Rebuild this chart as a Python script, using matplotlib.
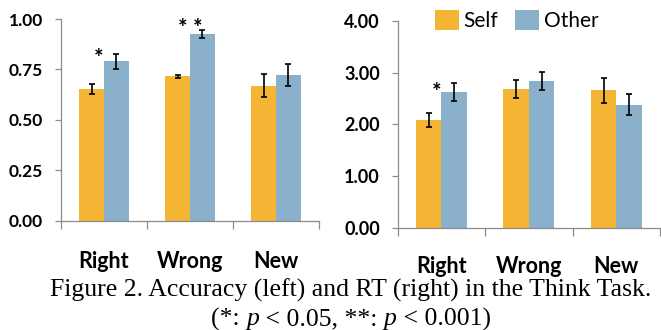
import matplotlib
matplotlib.use("Agg")
import matplotlib.pyplot as plt
from matplotlib.patches import Patch
import numpy as np

categories = ["Right", "Wrong", "New"]
acc_self = [0.655, 0.715, 0.670]
acc_self_err = [0.025, 0.007, 0.057]
acc_other = [0.790, 0.925, 0.722]
acc_other_err = [0.038, 0.021, 0.053]
rt_self = [2.08, 2.68, 2.66]
rt_self_err = [0.14, 0.18, 0.24]
rt_other = [2.62, 2.84, 2.38]
rt_other_err = [0.17, 0.17, 0.20]
acc_ticks = [0.00, 0.25, 0.50, 0.75, 1.00]
rt_ticks = [0.00, 1.00, 2.00, 3.00, 4.00]
series_names = ["Self", "Other"]
caption1 = "Figure 2. Accuracy (left) and RT (right) in the Think Task."
caption2_parts = [("(*: ", "normal"), ("p", "italic"), (" < 0.05, **: ", "normal"),
                  ("p", "italic"), (" < 0.001)", "normal")]

ORANGE = "#F4B434"
BLUE = "#8AB0CC"
GRAY = "#8C8C8C"
FONT = "Lato"
SERIF = "Liberation Serif"

fig = plt.figure(figsize=(6.61, 3.30), dpi=100)
W, H = 661, 330

def px_axes(x0, x1, ytop, ybot):
    return fig.add_axes([x0 / W, 1 - ybot / H, (x1 - x0) / W, (ybot - ytop) / H])

ax1 = px_axes(61, 319, 19, 220.7)
ax2 = px_axes(397.7, 660, 20.7, 228)

def style(ax, self_v, self_e, other_v, other_e, ticks, tsize, csize, cpad):
    x = np.arange(len(categories))
    w = 0.29
    ax.bar(x - w / 2, self_v, w, color=ORANGE, zorder=2)
    ax.bar(x + w / 2, other_v, w, color=BLUE, zorder=2)
    ax.errorbar(x - w / 2, self_v, yerr=self_e, fmt="none", ecolor="black",
                elinewidth=1.2, capsize=2.3, capthick=1.2, zorder=3)
    ax.errorbar(x + w / 2, other_v, yerr=other_e, fmt="none", ecolor="black",
                elinewidth=1.2, capsize=2.3, capthick=1.2, zorder=3)
    ax.set_xlim(-0.5, len(categories) - 0.5)
    ax.set_ylim(ticks[0], ticks[-1])
    ax.set_yticks(ticks)
    ax.set_yticklabels([f"{t:.2f}" for t in ticks], fontsize=tsize,
                       fontweight="bold", family=FONT)
    ax.set_xticks(x)
    ax.set_xticklabels(categories, fontsize=csize, fontweight="bold", family=FONT)
    ax.set_xticks(np.arange(-0.5, len(categories)), minor=True)
    ax.tick_params(axis="x", which="major", length=0, pad=cpad)
    ax.tick_params(axis="x", which="minor", length=6, width=0.9, color=GRAY, direction="out")
    ax.tick_params(axis="y", length=4.3, width=0.9, color=GRAY, pad=8.5, direction="out")
    for s in ["top", "right"]:
        ax.spines[s].set_visible(False)
    for s in ["left", "bottom"]:
        ax.spines[s].set_color(GRAY)
        ax.spines[s].set_linewidth(0.9)
    ax.spines["left"].set_bounds(ticks[0], ticks[-1])
    return x, w

x1, w1 = style(ax1, acc_self, acc_self_err, acc_other, acc_other_err, acc_ticks, 12.5, 15.5, 21.5)
x2, w2 = style(ax2, rt_self, rt_self_err, rt_other, rt_other_err, rt_ticks, 13, 15.5, 20.5)

# significance markers
star_kw = dict(ha="center", va="baseline", fontsize=16, fontweight="bold", family=FONT)
ax1.text(x1[0] - 0.058, 0.772, "*", **star_kw)
ax1.text(x1[1], 0.92, "* *", **star_kw)
ax2.text(x2[0] - 0.05, 2.49, "*", **star_kw)

handles = [Patch(facecolor=ORANGE), Patch(facecolor=BLUE)]
fig.legend(handles, series_names, loc="center left", bbox_to_anchor=(435 / W, 1 - 20.5 / H),
           ncol=2, frameon=False, prop={"family": FONT, "size": 15},
           handlelength=1.15, handleheight=1.1, handletextpad=0.2, columnspacing=0.85,
           borderpad=0, borderaxespad=0)

fig.text(351 / W, 1 - 297 / H, caption1, ha="center", va="baseline",
         fontsize=18.5, family=SERIF)

# second caption line, centred, with italic p
fig.canvas.draw()
renderer = fig.canvas.get_renderer()
pieces = []
total = 0.0
for txt, st in caption2_parts:
    tt = fig.text(0, 1 - 325.5 / H, txt, ha="left", va="baseline", fontsize=18.5,
                  family=SERIF, style=st)
    wdt = tt.get_window_extent(renderer=renderer).width
    pieces.append((tt, wdt))
    total += wdt
xpos = 351 - total / 2
for tt, wdt in pieces:
    tt.set_x(xpos / W)
    xpos += wdt

fig.savefig("out.png", dpi=100)
